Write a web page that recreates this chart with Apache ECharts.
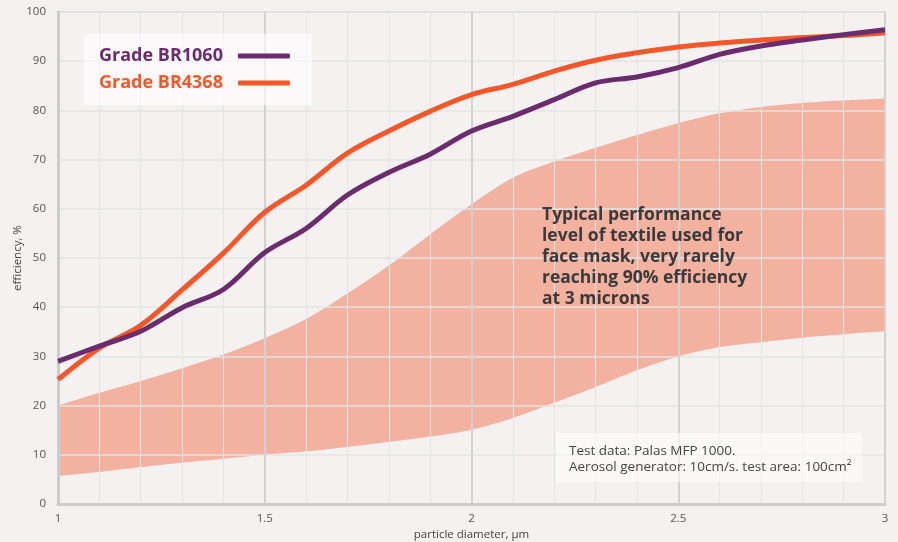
<!DOCTYPE html>
<html>
<head>
<meta charset="utf-8">
<script src="https://cdn.jsdelivr.net/npm/echarts@6/dist/echarts.min.js"></script>
<style>
  html, body { margin:0; padding:0; background:#f4f1f0; }
  #chart { width:898px; height:542px; }
</style>
</head>
<body>
<div id="chart"></div>
<script>
// particle diameter, um
var diameters = [1.0,1.1,1.2,1.3,1.4,1.5,1.6,1.7,1.8,1.9,2.0,2.1,2.2,2.3,2.4,2.5,2.6,2.7,2.8,2.9,3.0];

// efficiency, %
var br1060 = [29.0,32.1,35.1,39.9,43.6,51.1,56.0,62.8,67.4,71.1,75.8,78.8,82.2,85.6,86.8,88.7,91.4,93.1,94.3,95.4,96.4];
var br4368 = [25.3,31.7,36.3,43.5,51.0,59.3,64.8,71.3,75.8,79.8,83.2,85.3,88.0,90.2,91.7,92.9,93.7,94.3,94.8,95.2,95.8];

// textile band
var textileLow  = [5.7,6.5,7.5,8.4,9.2,10.0,10.7,11.6,12.6,13.7,15.1,17.5,20.6,23.8,27.2,30.0,31.9,32.9,33.8,34.5,35.1];
var textileHigh = [20.0,22.6,25.0,27.6,30.4,33.7,37.6,42.8,48.5,54.8,60.9,66.3,69.6,72.4,75.0,77.4,79.4,80.7,81.5,82.0,82.4];

var FONT = '"Open Sans", Lato, sans-serif';
var BG = '#f4f1f0';
var PURPLE = '#6b2c6d';
var ORANGE = '#f4582a';
var MINOR = '#dfe5e9';

function pairs(vals){
  var out = [];
  for (var i = 0; i < diameters.length; i++) out.push([diameters[i], vals[i]]);
  return out;
}

var chart = echarts.init(document.getElementById('chart'));

chart.setOption({
  backgroundColor:BG,
  animation:false,
  textStyle:{ fontFamily:FONT },
  grid:{
    left:58, right:13, top:12, bottom:38,
    outerBoundsMode:'none',
    show:true, borderColor:'#d6d6d6', borderWidth:2, backgroundColor:'transparent'
  },
  legend:{
    orient:'vertical',
    left:84, top:34,
    align:'right',
    icon:'roundRect',
    itemWidth:52, itemHeight:5, itemGap:9,
    padding:[13,22,13,15],
    backgroundColor:'rgba(255,255,255,0.6)',
    selectedMode:false,
    textStyle:{ fontSize:18, fontWeight:'bold', fontFamily:FONT, padding:[0,10,0,0] },
    data:[
      { name:'Grade BR1060', textStyle:{ color:PURPLE } },
      { name:'Grade BR4368', textStyle:{ color:ORANGE } }
    ]
  },
  xAxis:[{
    type:'value', min:1, max:3, interval:0.1, z:3,
    axisLine:{ show:true, lineStyle:{ color:'#cccccc', width:3 } },
    axisTick:{ show:false },
    axisLabel:{ show:false },
    splitLine:{ show:true, lineStyle:{ color:MINOR, width:1 } }
  },{
    type:'value', min:1, max:3, interval:0.5, position:'bottom', z:3,
    name:'particle diameter, μm', nameLocation:'middle', nameGap:25,
    nameMoveOverlap:false,
    nameTextStyle:{ color:'#444', fontSize:11.5 },
    axisLine:{ show:false },
    axisTick:{ show:false },
    axisLabel:{ color:'#555', fontSize:11.5, margin:9 },
    splitLine:{ show:true, lineStyle:{ color:'#d2d2d2', width:2 } }
  }],
  yAxis:{
    type:'value', min:0, max:100, interval:10, z:3,
    name:'efficiency, %', nameLocation:'middle', nameGap:34,
    nameMoveOverlap:false,
    nameTextStyle:{ color:'#444', fontSize:11.5 },
    axisLine:{ show:true, lineStyle:{ color:'#cccccc', width:3 } },
    axisTick:{ show:false },
    axisLabel:{ color:'#555', fontSize:11.5, margin:12 },
    splitLine:{ show:true, lineStyle:{ color:'#e3e5e6', width:1.5 } }
  },
  series:[{
    // upper edge of the textile band, filled down to the axis
    name:'textile high', type:'line', z:1,
    data:pairs(textileHigh), smooth:0.3, symbol:'none', silent:true,
    lineStyle:{ opacity:0 },
    areaStyle:{ color:'#f3b19f', opacity:1 }
  },{
    // lower edge, painted with the background to cut the band out
    name:'textile low', type:'line', z:1,
    data:pairs(textileLow), smooth:0.3, symbol:'none', silent:true,
    lineStyle:{ opacity:0 },
    areaStyle:{ color:BG, opacity:1 }
  },{
    name:'Grade BR1060', type:'line', z:5,
    data:pairs(br1060), smooth:0.35, symbol:'none',
    lineStyle:{ color:PURPLE, width:5 }, itemStyle:{ color:PURPLE }
  },{
    name:'Grade BR4368', type:'line', z:4,
    data:pairs(br4368), smooth:0.35, symbol:'none',
    lineStyle:{ color:ORANGE, width:5 }, itemStyle:{ color:ORANGE }
  }],
  graphic:[{
    type:'text', x:542, y:205, z:10,
    style:{
      text:'Typical performance\nlevel of textile used for\nface mask, very rarely\nreaching 90% efficiency\nat 3 microns',
      fill:'#3b3a3a', font:'bold 17.5px ' + FONT, lineHeight:21
    }
  },{
    type:'rect', z:10,
    shape:{ x:556, y:433, width:306, height:49 },
    style:{ fill:'rgba(255,255,255,0.55)' }
  },{
    type:'text', x:569, y:443, z:11,
    style:{
      text:'Test data: Palas MFP 1000.\nAerosol generator: 10cm/s. test area: 100cm²',
      fill:'#444', font:'13.5px ' + FONT, lineHeight:16
    }
  }]
});
</script>
</body>
</html>
